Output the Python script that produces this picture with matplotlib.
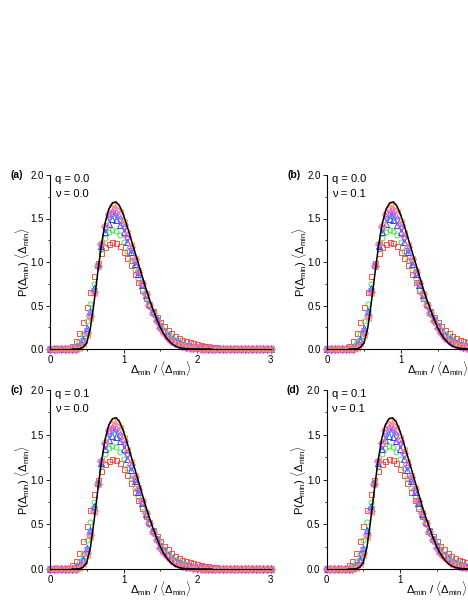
import numpy as np
import matplotlib
matplotlib.use("Agg")
import matplotlib.pyplot as plt
from matplotlib.ticker import MultipleLocator, FormatStrFormatter

plt.rcParams['font.family'] = ['Liberation Sans', 'DejaVu Sans']
plt.rcParams['mathtext.fontset'] = 'custom'
plt.rcParams['mathtext.rm'] = 'Liberation Sans'
plt.rcParams['mathtext.it'] = 'Liberation Sans:italic'
plt.rcParams['mathtext.bf'] = 'Liberation Sans:bold'

# bin centres of the scaled gap (0.00 ... 3.00, step 0.05)
x_bins = np.round(np.arange(0, 3.0001, 0.05), 2)

red_sq = [0, 0, 0, 0, 0.003, 0.01, 0.04, 0.09, 0.18, 0.31,
          0.48, 0.66, 0.84, 0.99, 1.10, 1.17, 1.21, 1.23, 1.22, 1.18,
          1.12, 1.05, 0.96, 0.86, 0.77, 0.68, 0.59, 0.51, 0.44, 0.37,
          0.31, 0.26, 0.22, 0.18, 0.15, 0.125, 0.105, 0.09, 0.075, 0.065,
          0.055, 0.045, 0.037, 0.03, 0.025, 0.02, 0.016, 0.013, 0.01, 0.008,
          0.006, 0.005, 0.004, 0.003, 0.002, 0.002, 0.001, 0.001, 0, 0,
          0]
green_ci = [0, 0, 0, 0, 0, 0.003, 0.01, 0.03, 0.08, 0.17,
            0.32, 0.52, 0.75, 0.97, 1.15, 1.28, 1.35, 1.37, 1.36, 1.31,
            1.23, 1.13, 1.02, 0.91, 0.80, 0.69, 0.59, 0.50, 0.41, 0.34,
            0.27, 0.22, 0.17, 0.135, 0.105, 0.08, 0.062, 0.048, 0.037, 0.028,
            0.021, 0.016, 0.012, 0.009, 0.007, 0.005, 0.004, 0.003, 0.002, 0.001,
            0.001, 0, 0, 0, 0, 0, 0, 0, 0, 0,
            0]
blue_up = [0, 0, 0, 0, 0, 0, 0.003, 0.01, 0.04, 0.11,
           0.24, 0.44, 0.70, 0.96, 1.18, 1.34, 1.44, 1.49, 1.48, 1.43,
           1.34, 1.23, 1.11, 0.98, 0.86, 0.74, 0.62, 0.52, 0.42, 0.34,
           0.27, 0.21, 0.16, 0.12, 0.09, 0.068, 0.05, 0.037, 0.027, 0.019,
           0.014, 0.01, 0.007, 0.005, 0.003, 0.002, 0.001, 0.001, 0, 0,
           0, 0, 0, 0, 0, 0, 0, 0, 0, 0,
           0]
cyan_dn = [0, 0, 0, 0, 0, 0, 0.001, 0.005, 0.03, 0.09,
           0.21, 0.41, 0.67, 0.95, 1.19, 1.37, 1.49, 1.54, 1.53, 1.47,
           1.38, 1.26, 1.13, 1.00, 0.87, 0.74, 0.62, 0.51, 0.41, 0.33,
           0.26, 0.20, 0.15, 0.11, 0.08, 0.06, 0.044, 0.032, 0.023, 0.016,
           0.011, 0.008, 0.005, 0.003, 0.002, 0.001, 0.001, 0, 0, 0,
           0, 0, 0, 0, 0, 0, 0, 0, 0, 0,
           0]
violet_di = [0, 0, 0, 0, 0, 0, 0, 0.003, 0.02, 0.08,
             0.19, 0.39, 0.66, 0.95, 1.20, 1.39, 1.52, 1.57, 1.56, 1.50,
             1.40, 1.28, 1.15, 1.01, 0.88, 0.75, 0.62, 0.51, 0.41, 0.32,
             0.25, 0.19, 0.14, 0.10, 0.075, 0.054, 0.039, 0.028, 0.02, 0.014,
             0.01, 0.007, 0.004, 0.003, 0.002, 0.001, 0, 0, 0, 0,
             0, 0, 0, 0, 0, 0, 0, 0, 0, 0,
             0]
magenta_di = [0, 0, 0, 0, 0, 0, 0, 0.002, 0.02, 0.07,
              0.18, 0.38, 0.65, 0.95, 1.21, 1.41, 1.55, 1.61, 1.60, 1.54,
              1.43, 1.30, 1.17, 1.03, 0.89, 0.76, 0.63, 0.51, 0.41, 0.32,
              0.24, 0.18, 0.13, 0.095, 0.068, 0.048, 0.034, 0.024, 0.017, 0.012,
              0.008, 0.005, 0.003, 0.002, 0.001, 0, 0, 0, 0, 0,
              0, 0, 0, 0, 0, 0, 0, 0, 0, 0,
              0]
orange_lt = [0, 0, 0, 0, 0, 0, 0, 0.001, 0.01, 0.06,
             0.16, 0.36, 0.64, 0.95, 1.22, 1.43, 1.58, 1.65, 1.64, 1.57,
             1.46, 1.33, 1.19, 1.04, 0.90, 0.76, 0.63, 0.51, 0.40, 0.31,
             0.23, 0.17, 0.12, 0.085, 0.06, 0.042, 0.029, 0.02, 0.013, 0.009,
             0.006, 0.004, 0.002, 0.001, 0, 0, 0, 0, 0, 0,
             0, 0, 0, 0, 0, 0, 0, 0, 0, 0,
             0]
black_curve = [0, 0, 0, 0, 0, 0, 0, 0, 0.003, 0.02,
               0.07, 0.24, 0.54, 0.88, 1.20, 1.45, 1.61, 1.68, 1.69, 1.64,
               1.54, 1.41, 1.27, 1.13, 0.99, 0.85, 0.71, 0.58, 0.46, 0.35,
               0.25, 0.17, 0.11, 0.065, 0.035, 0.018, 0.009, 0.004, 0.002, 0.001,
               0, 0, 0, 0, 0, 0, 0, 0, 0, 0,
               0, 0, 0, 0, 0, 0, 0, 0, 0, 0,
               0]

panel_tags = ['(a)', '(b)', '(c)', '(d)']
q_labels = ['q = 0.0', 'q = 0.0', 'q = 0.1', 'q = 0.1']
nu_labels = ['\u03bd = 0.0', '\u03bd = 0.1', '\u03bd = 0.0', '\u03bd = 0.1']

series = [
    (red_sq, 's', '#ff4040'),
    (green_ci, 'o', '#3ce03c'),
    (blue_up, '^', '#3030ff'),
    (cyan_dn, 'v', '#00c8e0'),
    (violet_di, 'd', '#9a3cff'),
    (magenta_di, 'D', '#ff3cff'),
    (orange_lt, '<', '#ff9a3c'),
]

W, H = 468, 605
fig = plt.figure(figsize=(W / 100, H / 100), dpi=100)
positions = [
    [50 / W, 1 - 349 / H, 220.5 / W, 174 / H],
    [327.3 / W, 1 - 349 / H, 220.5 / W, 174 / H],
    [50 / W, 1 - 569 / H, 220.5 / W, 179 / H],
    [326.5 / W, 1 - 569 / H, 220.5 / W, 179 / H],
]

for k, pos in enumerate(positions):
    ax = fig.add_axes(pos)
    for vals, mk, col in series:
        ms = 3.6 if mk in ('s', 'o') else 3.8
        ax.plot(x_bins, vals, linestyle='none', marker=mk, markersize=ms,
                markerfacecolor='none', markeredgecolor=col,
                markeredgewidth=0.65, clip_on=False, zorder=2)
    ax.plot(x_bins[6:45], black_curve[6:45], color='black', lw=1.1, zorder=3)
    ax.set_xlim(0, 3)
    ax.set_ylim(0, 2.0)
    for s in ('top', 'right'):
        ax.spines[s].set_visible(False)
    for s in ('left', 'bottom'):
        ax.spines[s].set_linewidth(0.8)
    ax.xaxis.set_major_locator(MultipleLocator(1))
    ax.xaxis.set_minor_locator(MultipleLocator(0.5))
    ax.yaxis.set_major_locator(MultipleLocator(0.5))
    ax.yaxis.set_minor_locator(MultipleLocator(0.25))
    ax.yaxis.set_major_formatter(FormatStrFormatter('%.1f'))
    ax.tick_params(which='major', direction='out', length=3, width=0.6,
                   labelsize=7, pad=1.5)
    ax.tick_params(which='minor', direction='out', length=1.6, width=0.6)
    hpx = pos[3] * H
    wpx = pos[2] * W
    ax.text(0.5, -20 / hpx, r'$\mathrm{\Delta_{min}\ /\ \langle\Delta_{min}\rangle}$',
            transform=ax.transAxes, ha='center', va='center', fontsize=8)
    ax.text(-28 / wpx, 0.5, r'$\mathrm{P(\Delta_{min})\ \langle\Delta_{min}\rangle}$',
            transform=ax.transAxes, ha='center', va='center', rotation=90,
            fontsize=8)
    ax.text(-33 / wpx, 1.0, panel_tags[k], transform=ax.transAxes,
            ha='center', va='center', fontsize=7.5, fontweight='bold')
    ax.text(5 / wpx, 1.0 - 4 / hpx, q_labels[k], transform=ax.transAxes,
            ha='left', va='center', fontsize=8)
    ax.text(5 / wpx, 1.0 - 19 / hpx, nu_labels[k], transform=ax.transAxes,
            ha='left', va='center', fontsize=8)

fig.savefig('out.png', dpi=100)
